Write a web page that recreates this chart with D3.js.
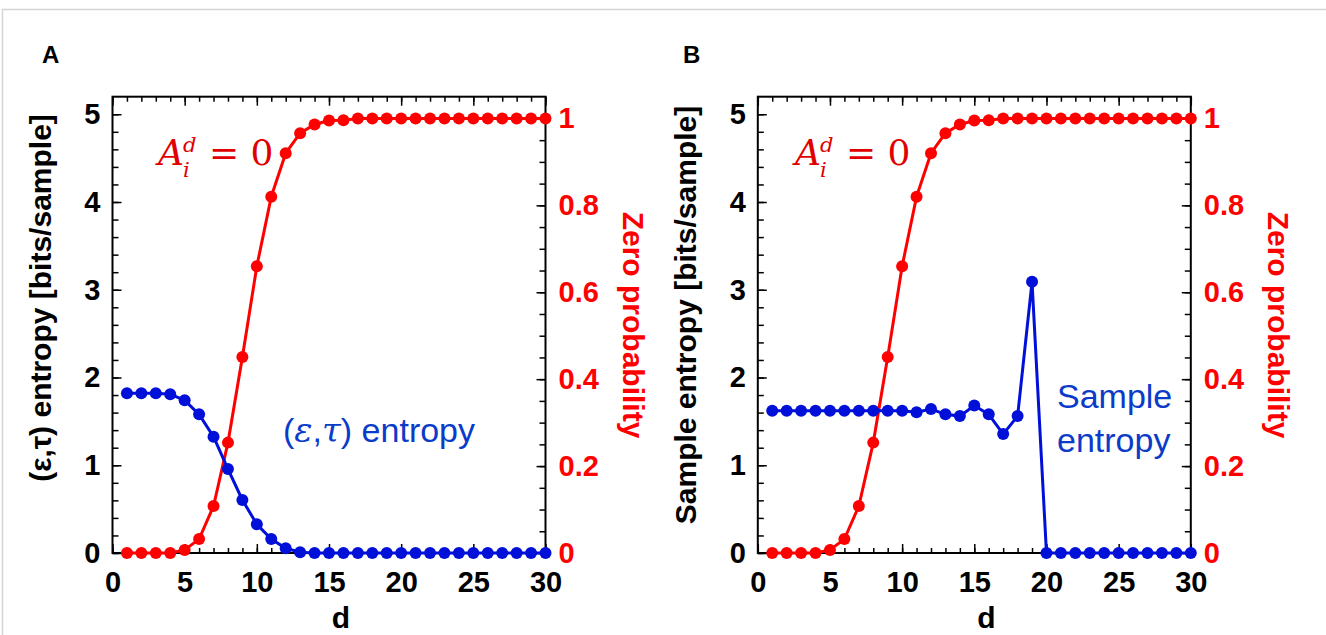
<!DOCTYPE html>
<html>

<head>
    <meta charset="utf-8">
    <style>
        body {
            margin: 0;
            background: #fff;
        }

        svg {
            display: block;
            font-family: 'Liberation Sans', Arial, sans-serif;
        }

        .tick text {
            font-size: 29px;
            font-weight: bold;
        }

        .domain {
            display: none;
        }

        .tick line {
            stroke: #000;
            stroke-width: 1.5px;
        }

        .title {
            font-size: 30px;
            font-weight: bold;
        }

        .panel-label {
            font-size: 24px;
            font-weight: bold;
        }

        .math {
            font-family: 'DejaVu Serif', 'Liberation Serif', serif;
            fill: #e00000;
        }

        .note {
            font-size: 34px;
            fill: #0b3bc9;
        }
    </style>
</head>

<body>
    <svg width="1326" height="635"></svg>

    <script src="https://d3js.org/d3.v7.min.js"></script>
    <script>
        // data
        let dValues = [1, 2, 3, 4, 5, 6, 7, 8, 9, 10, 11, 12, 13, 14, 15,
            16, 17, 18, 19, 20, 21, 22, 23, 24, 25, 26, 27, 28, 29, 30]

        // probability that A_i^d = 0 (right axis, same in both panels)
        let zeroProb = [0, 0, 0, 0, 0.007, 0.032, 0.108, 0.254, 0.451, 0.660,
            0.820, 0.920, 0.966, 0.986, 0.995, 0.996, 1, 1, 1, 1,
            1, 1, 1, 1, 1, 1, 1, 1, 1, 1]

        // (eps,tau) entropy, panel A
        let etEntropy = [1.82, 1.82, 1.82, 1.81, 1.74, 1.58, 1.325, 0.957, 0.604, 0.328,
            0.16, 0.054, 0.008, 0, 0, 0, 0, 0, 0, 0,
            0, 0, 0, 0, 0, 0, 0, 0, 0, 0]

        // sample entropy, panel B
        let sampleEntropy = [1.62, 1.62, 1.62, 1.62, 1.62, 1.62, 1.62, 1.62, 1.62, 1.62,
            1.605, 1.64, 1.58, 1.56, 1.68, 1.58, 1.355, 1.56, 3.09, 0,
            0, 0, 0, 0, 0, 0, 0, 0, 0, 0]

        let xTicks = [0, 5, 10, 15, 20, 25, 30]
        let leftTicks = [0, 1, 2, 3, 4, 5]
        let rightTicks = [0, 0.2, 0.4, 0.6, 0.8, 1]

        let red = "#ff0000"
        let blue = "#0010d8"

        let svg = d3.select("svg")

        // faint page border
        svg.append("rect")
            .attr("x", 2.5)
            .attr("y", 9.5)
            .attr("width", 1400)
            .attr("height", 700)
            .attr("fill", "none")
            .attr("stroke", "#d4d4d4")
            .attr("stroke-width", 1.5)

        let plotTop = 96.7
        let plotBottom = 553
        let plotW = 433

        let panels = [
            { left: 112.5, label: "A", entropy: etEntropy, yTitle: "(ε,τ) entropy [bits/sample]", titleX: 51, titleY: 298, mathX: 158, labelX: 42 },
            { left: 757.8, label: "B", entropy: sampleEntropy, yTitle: "Sample entropy [bits/sample]", titleX: 696, titleY: 315, mathX: 795, labelX: 683 }
        ]

        panels.forEach(function (p) {
            let x = d3.scaleLinear().domain([0, 30]).range([p.left, p.left + plotW])
            let yL = d3.scaleLinear().domain([0, 5.2]).range([plotBottom, plotTop])
            let yR = d3.scaleLinear().domain([0, 1.05]).range([plotBottom, plotTop])
            let right = p.left + plotW

            let g = svg.append("g")

            // frame
            g.append("rect")
                .attr("x", p.left)
                .attr("y", plotTop)
                .attr("width", plotW)
                .attr("height", plotBottom - plotTop)
                .attr("fill", "none")
                .attr("stroke", "#000")
                .attr("stroke-width", 2)

            // minor ticks
            g.append("g")
                .attr("transform", `translate(0,${plotBottom})`)
                .call(d3.axisBottom(x).tickValues(d3.range(0, 31)).tickSize(-5).tickFormat(""))
            g.append("g")
                .attr("transform", `translate(0,${plotTop})`)
                .call(d3.axisTop(x).tickValues(d3.range(0, 31)).tickSize(-5).tickFormat(""))
            g.append("g")
                .attr("transform", `translate(${p.left},0)`)
                .call(d3.axisLeft(yL).tickValues(d3.range(0, 26).map(v => v / 5)).tickSize(-6).tickFormat(""))
            g.append("g")
                .attr("transform", `translate(${right},0)`)
                .call(d3.axisRight(yR).tickValues(d3.range(0, 21).map(v => v / 20)).tickSize(-6).tickFormat(""))

            // major ticks + labels
            g.append("g")
                .attr("transform", `translate(0,${plotBottom})`)
                .call(d3.axisBottom(x).tickValues(xTicks).tickSize(-9).tickFormat(d3.format("d")))
                .call(a => a.selectAll("text").attr("y", 18))
            g.append("g")
                .attr("transform", `translate(0,${plotTop})`)
                .call(d3.axisTop(x).tickValues(xTicks).tickSize(-9).tickFormat(""))
            g.append("g")
                .attr("transform", `translate(${p.left},0)`)
                .call(d3.axisLeft(yL).tickValues(leftTicks).tickSize(-9).tickFormat(d3.format("d")))
                .call(a => a.selectAll("text").attr("x", -12))
            g.append("g")
                .attr("class", "right")
                .attr("transform", `translate(${right},0)`)
                .call(d3.axisRight(yR).tickValues(rightTicks).tickSize(-9).tickFormat(d3.format("~g")))
                .call(a => a.selectAll("text").attr("x", 13))

            g.selectAll(".tick text").attr("fill", "#000")
            g.selectAll(".right .tick text").attr("fill", red)

            // axis titles
            g.append("text")
                .attr("class", "title")
                .attr("x", x(0) + 228.5)
                .attr("y", 628)
                .attr("text-anchor", "middle")
                .text("d")

            g.append("text")
                .attr("class", "title")
                .attr("transform", `translate(${p.titleX},${p.titleY}) rotate(-90)`)
                .attr("text-anchor", "middle")
                .text(p.yTitle)

            g.append("text")
                .attr("class", "title")
                .attr("transform", `translate(${right + 77.5},325) rotate(90)`)
                .attr("text-anchor", "middle")
                .attr("fill", red)
                .text("Zero probability")

            g.append("text")
                .attr("class", "panel-label")
                .attr("x", p.labelX)
                .attr("y", 63)
                .text(p.label)

            // series
            let probPts = dValues.map((d, k) => [d, zeroProb[k]])
            let entPts = dValues.map((d, k) => [d, p.entropy[k]])

            g.append("path")
                .datum(probPts)
                .attr("fill", "none")
                .attr("stroke", red)
                .attr("stroke-width", 3)
                .attr("d", d3.line().x(d => x(d[0])).y(d => yR(d[1])))

            g.append("g")
                .selectAll("circle")
                .data(probPts)
                .join("circle")
                .attr("cx", d => x(d[0]))
                .attr("cy", d => yR(d[1]))
                .attr("r", 6)
                .attr("fill", red)

            g.append("path")
                .datum(entPts)
                .attr("fill", "none")
                .attr("stroke", blue)
                .attr("stroke-width", 3)
                .attr("d", d3.line().x(d => x(d[0])).y(d => yL(d[1])))

            g.append("g")
                .selectAll("circle")
                .data(entPts)
                .join("circle")
                .attr("cx", d => x(d[0]))
                .attr("cy", d => yL(d[1]))
                .attr("r", 6)
                .attr("fill", blue)

            // A_i^d = 0, one text with stacked sup/sub
            let m = g.append("text")
                .attr("class", "math")
                .attr("x", p.mathX)
                .attr("y", 165)
                .style("font-size", "36px")
            m.append("tspan").style("font-style", "italic").text("A")
            m.append("tspan")
                .attr("x", p.mathX + 25)
                .attr("dy", -13)
                .style("font-size", "21px")
                .style("font-style", "italic")
                .text("d")
            m.append("tspan")
                .attr("x", p.mathX + 25)
                .attr("dy", 25)
                .style("font-size", "21px")
                .style("font-style", "italic")
                .text("i")
            m.append("tspan")
                .attr("x", p.mathX + 51)
                .attr("dy", -12)
                .text("= 0")
        })

        // blue annotations
        let n1 = svg.append("text")
            .attr("class", "note")
            .attr("x", 283)
            .attr("y", 442)
        n1.append("tspan").text("(")
        n1.append("tspan").attr("class", "math").style("fill", "#0b3bc9").style("font-style", "italic").text("ε")
        n1.append("tspan").text(",")
        n1.append("tspan").attr("class", "math").style("fill", "#0b3bc9").style("font-style", "italic").text("τ")
        n1.append("tspan").text(") entropy")

        svg.append("text")
            .attr("class", "note")
            .attr("x", 1057)
            .attr("y", 408)
            .text("Sample")
        svg.append("text")
            .attr("class", "note")
            .attr("x", 1057)
            .attr("y", 452)
            .text("entropy")
    </script>
</body>

</html>
